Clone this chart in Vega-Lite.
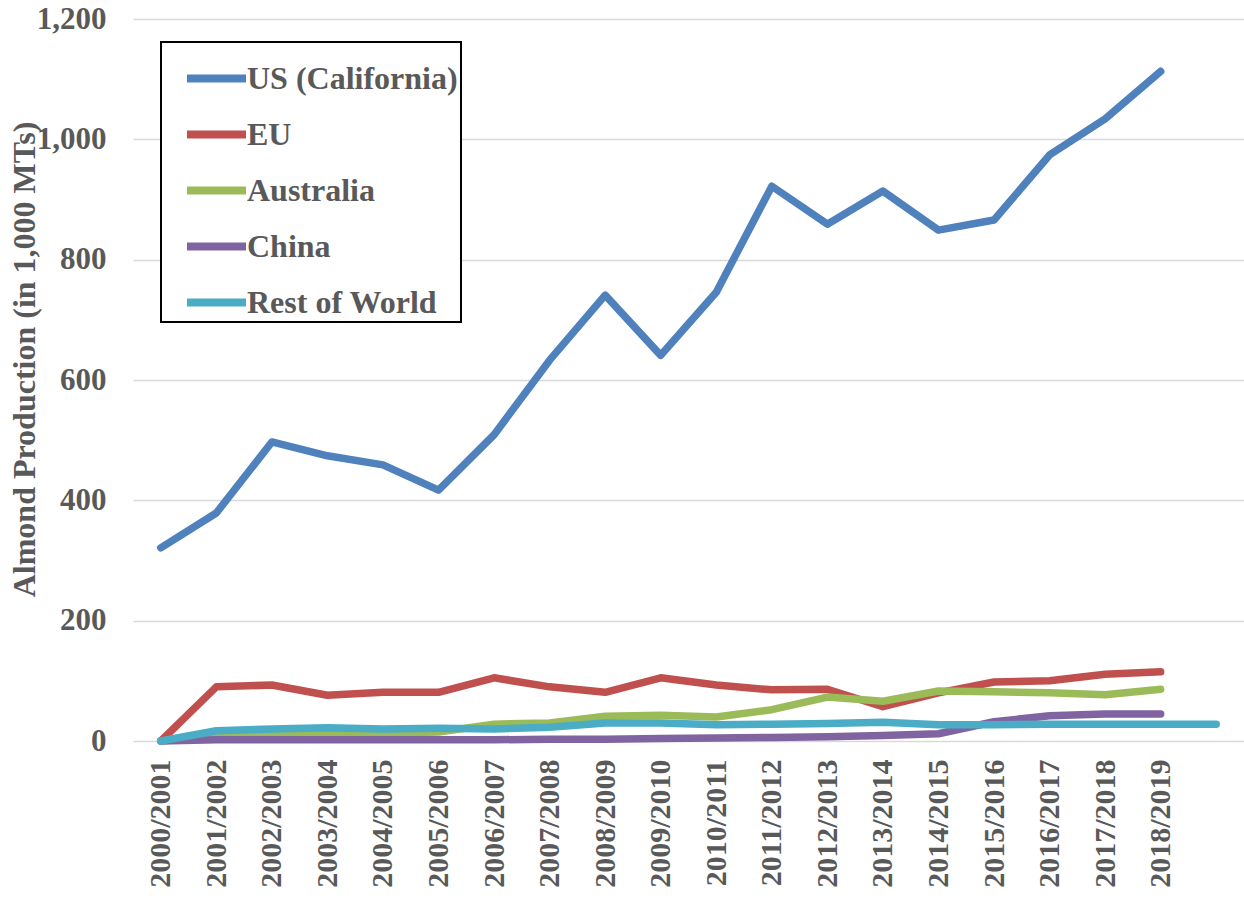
{
  "$schema": "https://vega.github.io/schema/vega-lite/v6.json",
  "width": 1111,
  "height": 722,
  "autosize": {"type": "none"},
  "padding": {"left": 133, "top": 19, "right": 0, "bottom": 160},
  "background": "white",
  "config": {
    "view": {"stroke": null},
    "font": "Liberation Serif"
  },
  "data": {
    "values": [
      {"season": "2000/2001", "region": "US (California)", "value": 321},
      {"season": "2001/2002", "region": "US (California)", "value": 379},
      {"season": "2002/2003", "region": "US (California)", "value": 497},
      {"season": "2003/2004", "region": "US (California)", "value": 474},
      {"season": "2004/2005", "region": "US (California)", "value": 459},
      {"season": "2005/2006", "region": "US (California)", "value": 417},
      {"season": "2006/2007", "region": "US (California)", "value": 509},
      {"season": "2007/2008", "region": "US (California)", "value": 633},
      {"season": "2008/2009", "region": "US (California)", "value": 741},
      {"season": "2009/2010", "region": "US (California)", "value": 641},
      {"season": "2010/2011", "region": "US (California)", "value": 746},
      {"season": "2011/2012", "region": "US (California)", "value": 922},
      {"season": "2012/2013", "region": "US (California)", "value": 859},
      {"season": "2013/2014", "region": "US (California)", "value": 914},
      {"season": "2014/2015", "region": "US (California)", "value": 849},
      {"season": "2015/2016", "region": "US (California)", "value": 866},
      {"season": "2016/2017", "region": "US (California)", "value": 974},
      {"season": "2017/2018", "region": "US (California)", "value": 1034},
      {"season": "2018/2019", "region": "US (California)", "value": 1113},
      {"season": "2000/2001", "region": "EU", "value": 0},
      {"season": "2001/2002", "region": "EU", "value": 90},
      {"season": "2002/2003", "region": "EU", "value": 93},
      {"season": "2003/2004", "region": "EU", "value": 76},
      {"season": "2004/2005", "region": "EU", "value": 81},
      {"season": "2005/2006", "region": "EU", "value": 81},
      {"season": "2006/2007", "region": "EU", "value": 105},
      {"season": "2007/2008", "region": "EU", "value": 90},
      {"season": "2008/2009", "region": "EU", "value": 81},
      {"season": "2009/2010", "region": "EU", "value": 105},
      {"season": "2010/2011", "region": "EU", "value": 93},
      {"season": "2011/2012", "region": "EU", "value": 85},
      {"season": "2012/2013", "region": "EU", "value": 86},
      {"season": "2013/2014", "region": "EU", "value": 57},
      {"season": "2014/2015", "region": "EU", "value": 80},
      {"season": "2015/2016", "region": "EU", "value": 98},
      {"season": "2016/2017", "region": "EU", "value": 100},
      {"season": "2017/2018", "region": "EU", "value": 111},
      {"season": "2018/2019", "region": "EU", "value": 115},
      {"season": "2000/2001", "region": "Australia", "value": 0},
      {"season": "2001/2002", "region": "Australia", "value": 8},
      {"season": "2002/2003", "region": "Australia", "value": 10},
      {"season": "2003/2004", "region": "Australia", "value": 12},
      {"season": "2004/2005", "region": "Australia", "value": 13},
      {"season": "2005/2006", "region": "Australia", "value": 15},
      {"season": "2006/2007", "region": "Australia", "value": 28},
      {"season": "2007/2008", "region": "Australia", "value": 30},
      {"season": "2008/2009", "region": "Australia", "value": 41},
      {"season": "2009/2010", "region": "Australia", "value": 43},
      {"season": "2010/2011", "region": "Australia", "value": 40},
      {"season": "2011/2012", "region": "Australia", "value": 52},
      {"season": "2012/2013", "region": "Australia", "value": 73},
      {"season": "2013/2014", "region": "Australia", "value": 66},
      {"season": "2014/2015", "region": "Australia", "value": 83},
      {"season": "2015/2016", "region": "Australia", "value": 82},
      {"season": "2016/2017", "region": "Australia", "value": 80},
      {"season": "2017/2018", "region": "Australia", "value": 77},
      {"season": "2018/2019", "region": "Australia", "value": 86},
      {"season": "2000/2001", "region": "China", "value": 0},
      {"season": "2001/2002", "region": "China", "value": 2},
      {"season": "2002/2003", "region": "China", "value": 2},
      {"season": "2003/2004", "region": "China", "value": 2},
      {"season": "2004/2005", "region": "China", "value": 2},
      {"season": "2005/2006", "region": "China", "value": 2},
      {"season": "2006/2007", "region": "China", "value": 2},
      {"season": "2007/2008", "region": "China", "value": 3},
      {"season": "2008/2009", "region": "China", "value": 3},
      {"season": "2009/2010", "region": "China", "value": 4},
      {"season": "2010/2011", "region": "China", "value": 5},
      {"season": "2011/2012", "region": "China", "value": 6},
      {"season": "2012/2013", "region": "China", "value": 7},
      {"season": "2013/2014", "region": "China", "value": 9},
      {"season": "2014/2015", "region": "China", "value": 12},
      {"season": "2015/2016", "region": "China", "value": 32},
      {"season": "2016/2017", "region": "China", "value": 42},
      {"season": "2017/2018", "region": "China", "value": 45},
      {"season": "2018/2019", "region": "China", "value": 45},
      {"season": "2000/2001", "region": "Rest of World", "value": 0},
      {"season": "2001/2002", "region": "Rest of World", "value": 17},
      {"season": "2002/2003", "region": "Rest of World", "value": 20},
      {"season": "2003/2004", "region": "Rest of World", "value": 22},
      {"season": "2004/2005", "region": "Rest of World", "value": 20},
      {"season": "2005/2006", "region": "Rest of World", "value": 21},
      {"season": "2006/2007", "region": "Rest of World", "value": 20},
      {"season": "2007/2008", "region": "Rest of World", "value": 23},
      {"season": "2008/2009", "region": "Rest of World", "value": 30},
      {"season": "2009/2010", "region": "Rest of World", "value": 30},
      {"season": "2010/2011", "region": "Rest of World", "value": 27},
      {"season": "2011/2012", "region": "Rest of World", "value": 28},
      {"season": "2012/2013", "region": "Rest of World", "value": 29},
      {"season": "2013/2014", "region": "Rest of World", "value": 31},
      {"season": "2014/2015", "region": "Rest of World", "value": 27},
      {"season": "2015/2016", "region": "Rest of World", "value": 27},
      {"season": "2016/2017", "region": "Rest of World", "value": 28},
      {"season": "2017/2018", "region": "Rest of World", "value": 28},
      {"season": "2018/2019", "region": "Rest of World", "value": 28},
      {"season": "2019/2020", "region": "Rest of World", "value": 28}
    ]
  },
  "mark": {"type": "line", "strokeWidth": 7.5, "strokeCap": "round", "strokeJoin": "round"},
  "encoding": {
    "x": {
      "field": "season",
      "type": "ordinal",
      "sort": null,
      "scale": {"type": "point", "padding": 0.5},
      "axis": {
        "title": null,
        "domain": false,
        "ticks": false,
        "grid": false,
        "labelAngle": 270,
        "labelPadding": 18,
        "labelFont": "Liberation Serif",
        "labelFontWeight": "bold",
        "labelFontSize": 30,
        "labelColor": "#595959",
        "labelExpr": "datum.value == '2019/2020' ? '' : datum.label"
      }
    },
    "y": {
      "field": "value",
      "type": "quantitative",
      "scale": {"domain": [0, 1200], "nice": false, "zero": true},
      "axis": {
        "title": "Almond Production (in 1,000 MTs)",
        "values": [0, 200, 400, 600, 800, 1000, 1200],
        "format": ",.0f",
        "domain": false,
        "ticks": false,
        "grid": true,
        "gridColor": "#d9d9d9",
        "gridWidth": 1.5,
        "labelPadding": 27,
        "labelFont": "Liberation Serif",
        "labelFontWeight": "bold",
        "labelFontSize": 31,
        "labelColor": "#595959",
        "titleFont": "Liberation Serif",
        "titleFontWeight": "bold",
        "titleFontSize": 32,
        "titleColor": "#595959",
        "titleX": -109,
        "titleY": 340,
        "titleAngle": -90,
        "titleAlign": "center",
        "titleBaseline": "middle"
      }
    },
    "color": {
      "field": "region",
      "type": "nominal",
      "scale": {
        "domain": ["US (California)", "EU", "Australia", "China", "Rest of World"],
        "range": ["#4F81BD", "#C0504D", "#9BBB59", "#8064A2", "#4BACC6"]
      },
      "legend": {
        "title": null,
        "orient": "none",
        "legendX": 28,
        "legendY": 23,
        "padding": 3,
        "strokeColor": "black",
        "fillColor": "white",
        "symbolType": "stroke",
        "symbolSize": 3481,
        "symbolStrokeWidth": 8,
        "symbolOffset": 19,
        "labelOffset": -3,
        "rowPadding": 6,
        "labelFont": "Liberation Serif",
        "labelFontWeight": "bold",
        "labelFontSize": 32,
        "labelColor": "#595959",
        "labelLimit": 400,
        "encode": {"legend": {"update": {"strokeWidth": {"value": 2}}}}
      }
    }
  }
}
